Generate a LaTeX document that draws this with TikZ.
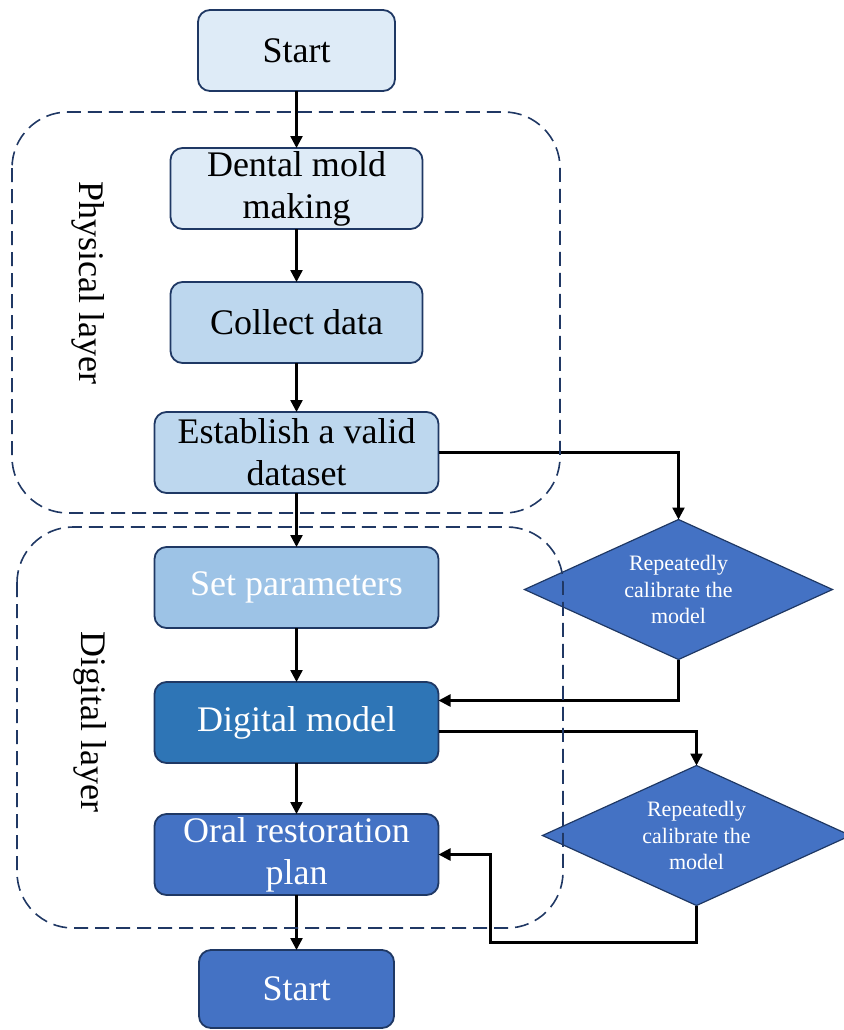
\documentclass[tikz,border=0pt]{standalone}
\usepackage{fontspec}
\setmainfont{Liberation Serif}
\usetikzlibrary{positioning,shapes.geometric,arrows.meta}
\definecolor{pale}{HTML}{DEEBF7}
\definecolor{soft}{HTML}{BDD7EE}
\definecolor{mid}{HTML}{9DC3E6}
\definecolor{strong}{HTML}{2E75B6}
\definecolor{deep}{HTML}{4472C4}
\definecolor{edge}{HTML}{1F3864}
\definecolor{navy}{HTML}{203864}

\begin{document}
\begin{tikzpicture}[
    node distance=26.5pt,
    box/.style={
      draw=edge, line width=.9pt, rounded corners=6pt, align=center, outer sep=0pt,
      minimum width=#1, minimum height=40.5pt, inner sep=1pt,
      font=\fontsize{18}{21}\selectfont},
    check/.style={
      diamond, aspect=2.2, draw=edge, line width=.6pt, fill=deep, text=white, align=center,
      minimum width=154pt, minimum height=70pt, inner sep=1pt, outer sep=0pt,
      font=\fontsize{11}{13.3}\selectfont},
    flow/.style={-{Triangle[length=6pt,width=6pt]}, line width=1.2pt},
    layer/.style={draw=navy, dash pattern=on 7pt off 3.5pt, line width=.8pt, rounded corners=28pt},
    tag/.style={rotate=-90, font=\fontsize{18}{21}\selectfont}]
  \useasboundingbox (0,0) rectangle (422pt,-515pt);

  \node[box=98.5pt, fill=pale] (start) at (148.25pt,-25.25pt) {Start};
  \node[box=126pt, fill=pale, below=28.5pt of start] (mold) {Dental mold\\making};
  \node[box=126pt, fill=soft, below=26.5pt of mold] (collect) {Collect data};
  \node[box=142pt, fill=soft, below=24.5pt of collect] (valid) {Establish a valid\\dataset};
  \node[box=142pt, fill=mid, text=white, below=27pt of valid] (params) {Set parameters};
  \node[box=142pt, fill=strong, text=white, below=27pt of params] (model) {Digital model};
  \node[box=142pt, fill=deep, text=white, below=25.5pt of model] (plan) {Oral restoration\\plan};
  \node[box=97.5pt, minimum height=39pt, fill=deep, text=white, below=27.5pt of plan] (finish) {Start};

  \node[check, right=43pt of params, yshift=-1pt] (calib-a) {Repeatedly\\calibrate the\\model};
  \node[check, right=52pt of plan, yshift=9.5pt] (calib-b) {Repeatedly\\calibrate the\\model};

  \foreach \a/\b in {start/mold, mold/collect, collect/valid, valid/params,
    params/model, model/plan, plan/finish}
  \draw[flow] (\a) -- (\b);

  \draw[flow] (valid.east) -| (calib-a.north);
  \draw[flow] (calib-a.south) |- ([yshift=11pt]model.east);
  \draw[flow] ([yshift=-4.5pt]model.east) -| (calib-b.north);
  \draw[flow] (calib-b.south) -- ++(0,-18.5pt) -| ([xshift=26pt]plan.east) -- (plan.east);

  \draw[layer] (6pt,-56pt) rectangle (280pt,-256.5pt);
  \draw[layer] (8.5pt,-263.5pt) rectangle (281.5pt,-464pt);
  \node[tag] (phys) at (44pt,-141.5pt) {Physical layer};
  \node[tag] (digi) at (45pt,-361pt) {Digital layer};
\end{tikzpicture}
\end{document}
